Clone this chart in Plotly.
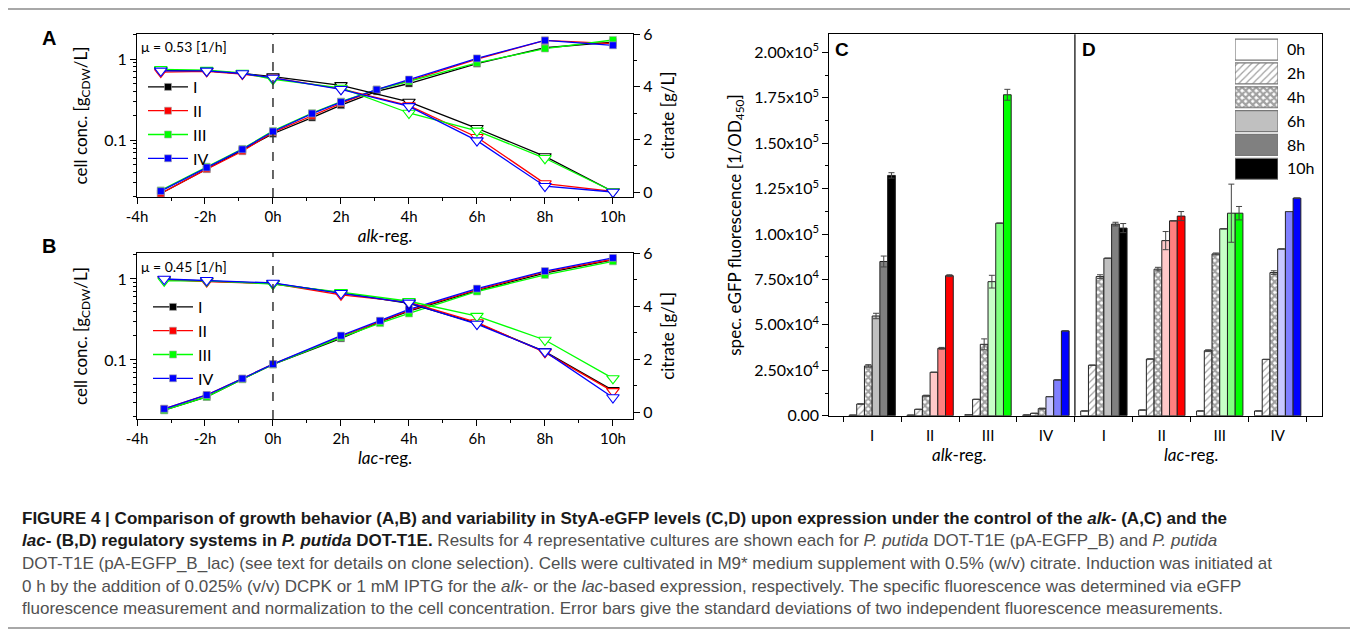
import math
import plotly.graph_objects as go

W, H = 1358, 635
PAGE_OFFSET = 8  # default body margin of the html page
FONT = "Lato, Open Sans, sans-serif"
CAP_FONT = "Liberation Sans Narrow, Liberation Sans, Arial, sans-serif"

# =========================
# DATA - growth curves (A, B)
# =========================
clones = ["I", "II", "III", "IV"]
hour_ticks = [-4, -2, 0, 2, 4, 6, 8, 10]
hour_labels = [f"{h}h" for h in hour_ticks]

# A: alk-reg.
alk_cell_time = [-3.3, -1.95, -0.9, 0, 1.15, 2, 3.05, 4, 6, 8, 10]
alk_cells_I = [0.022, 0.044, 0.074, 0.120, 0.190, 0.270, 0.40, 0.50, 0.88, 1.38, 1.62]
alk_cells_II = [0.022, 0.044, 0.073, 0.125, 0.200, 0.285, 0.42, 0.54, 1.00, 1.70, 1.55]
alk_cells_III = [0.024, 0.047, 0.078, 0.130, 0.215, 0.300, 0.42, 0.53, 0.90, 1.35, 1.72]
alk_cells_IV = [0.0235, 0.046, 0.077, 0.128, 0.213, 0.295, 0.42, 0.56, 1.02, 1.70, 1.48]

alk_cit_time = [-3.3, -1.95, -0.9, 0, 2, 4, 6, 8, 10]
alk_cit_I = [4.62, 4.60, 4.50, 4.38, 4.05, 3.42, 2.42, 1.35, 0.02]
alk_cit_II = [4.55, 4.58, 4.48, 4.33, 3.92, 3.28, 2.08, 0.32, 0.02]
alk_cit_III = [4.66, 4.63, 4.52, 4.28, 3.95, 3.00, 2.32, 1.28, 0.02]
alk_cit_IV = [4.60, 4.60, 4.50, 4.33, 3.90, 3.25, 1.95, 0.22, 0.00]

# B: lac-reg.
lac_cell_time = [-3.2, -1.95, -0.9, 0, 2, 3.15, 4, 6, 8, 10]
lac_cells_I = [0.024, 0.035, 0.058, 0.088, 0.185, 0.295, 0.40, 0.72, 1.18, 1.72]
lac_cells_II = [0.025, 0.037, 0.059, 0.089, 0.195, 0.300, 0.41, 0.74, 1.22, 1.75]
lac_cells_III = [0.024, 0.035, 0.058, 0.088, 0.190, 0.285, 0.375, 0.70, 1.12, 1.65]
lac_cells_IV = [0.025, 0.037, 0.059, 0.089, 0.200, 0.305, 0.42, 0.76, 1.25, 1.82]

lac_cit_time = [-3.2, -1.95, 0, 2, 4, 6, 8, 10]
lac_cit_I = [5.00, 4.95, 4.85, 4.50, 4.10, 3.35, 2.28, 0.82]
lac_cit_II = [5.00, 4.92, 4.85, 4.42, 4.15, 3.38, 2.25, 0.78]
lac_cit_III = [4.95, 4.95, 4.83, 4.52, 4.18, 3.62, 2.72, 1.27]
lac_cit_IV = [5.02, 4.97, 4.87, 4.48, 4.12, 3.32, 2.28, 0.55]

mu_alk = "μ = 0.53 [1/h]"
mu_lac = "μ = 0.45 [1/h]"

# =========================
# DATA - specific fluorescence (C, D)
# =========================
time_labels = ["0h", "2h", "4h", "6h", "8h", "10h"]
group_labels = ["I", "II", "III", "IV", "I", "II", "III", "IV"]
regulators = ["<i>alk</i>-reg.", "<i>lac</i>-reg."]

fluo_0h = [300, 300, 600, 400, 2600, 3100, 2600, 2600]
fluo_2h = [6450, 3500, 9000, 1300, 27800, 31200, 35800, 31000]
fluo_4h = [27400, 11000, 39300, 3900, 76600, 80700, 89100, 78800]
fluo_6h = [54900, 23900, 73800, 10500, 86700, 96400, 102900, 91800]
fluo_8h = [84900, 37100, 106000, 19700, 105500, 107300, 111500, 112400]
fluo_10h = [132300, 77100, 176700, 46700, 103300, 109900, 111500, 119800]

err_0h = [0, 0, 0, 0, 0, 0, 0, 0]
err_2h = [0, 0, 0, 0, 0, 0, 500, 0]
err_4h = [700, 300, 3000, 300, 1000, 1000, 500, 1000]
err_6h = [1500, 0, 3500, 0, 0, 5000, 0, 0]
err_8h = [3000, 500, 0, 0, 1000, 0, 16000, 0]
err_10h = [1500, 500, 3000, 0, 2500, 2500, 3700, 0]

# =========================
# STYLES
# =========================
clone_colors = ["#000000", "#ff0000", "#00ff00", "#0000ff"]
light_colors = ["#c0c0c0", "#ffc8c8", "#c8ffc8", "#c8c8ff"]
mid_colors = ["#808080", "#ff8080", "#80ff80", "#8080ff"]


def px_x(p):
    return (p - PAGE_OFFSET) / W


def px_y(p):
    return 1 - (p - PAGE_OFFSET) / H


def sci_label(v):
    if v == 0:
        return "0.00"
    e = int(math.floor(math.log10(v)))
    return f"{v / 10 ** e:.2f}x10<sup>{e}</sup>"


axis_base = dict(
    showline=True, linecolor="black", linewidth=1.2,
    ticks="outside", tickcolor="black", tickwidth=1.2, ticklen=6,
    showgrid=False, zeroline=False, automargin=False,
    tickfont=dict(family=FONT, size=16, color="black"),
)

fig = go.Figure()


# =========================
# GROWTH PANELS
# =========================
def add_growth(xa, ya_left, ya_right, legend_name, cell_time, cells, cit_time, cits):
    for name, color, ys in zip(clones, clone_colors, cits):
        fig.add_trace(go.Scatter(
            x=cit_time, y=ys, mode="lines+markers", showlegend=False,
            line=dict(color=color, width=1.3),
            marker=dict(symbol="triangle-down", size=11, color="white",
                        line=dict(color=color, width=1.1)),
            xaxis=xa, yaxis=ya_right,
        ))
    for name, color, ys in zip(clones, clone_colors, cells):
        fig.add_trace(go.Scatter(
            x=cell_time, y=ys, mode="lines+markers", name=name,
            line=dict(color=color, width=1.3),
            marker=dict(symbol="square", size=7, color=color,
                        line=dict(color="#aaaaaa", width=0.6)),
            xaxis=xa, yaxis=ya_left, legend=legend_name,
        ))


add_growth("x", "y", "y2", "legend", alk_cell_time,
           [alk_cells_I, alk_cells_II, alk_cells_III, alk_cells_IV],
           alk_cit_time, [alk_cit_I, alk_cit_II, alk_cit_III, alk_cit_IV])
add_growth("x2", "y3", "y4", "legend2", lac_cell_time,
           [lac_cells_I, lac_cells_II, lac_cells_III, lac_cells_IV],
           lac_cit_time, [lac_cit_I, lac_cit_II, lac_cit_III, lac_cit_IV])

# =========================
# BAR PANELS
# =========================
positions = list(range(1, len(group_labels) + 1))
fluo = [fluo_0h, fluo_2h, fluo_4h, fluo_6h, fluo_8h, fluo_10h]
errs = [err_0h, err_2h, err_4h, err_6h, err_8h, err_10h]

clone_idx = [clones.index(g) for g in group_labels]
fills = [
    ["white"] * 4, ["white"] * 4, ["white"] * 4,
    light_colors, mid_colors, clone_colors,
]
shapes_by_time = ["", "/", "x", "", "", ""]
size_by_time = [8, 5, 5, 8, 8, 8]
solid_by_time = [0.3, 0.25, 0.7, 0.3, 0.3, 0.3]
legend_fill = [f[0] for f in fills]

for j, lab in enumerate(time_labels):
    fig.add_trace(go.Bar(
        x=positions, y=fluo[j], name=lab, showlegend=False,
        marker=dict(
            color=[fills[j][i] for i in clone_idx],
            line=dict(color="#222222", width=1),
            pattern=dict(shape=shapes_by_time[j],
                         fgcolor=[clone_colors[i] for i in clone_idx],
                         size=size_by_time[j], solidity=solid_by_time[j],
                         fillmode="overlay"),
        ),
        error_y=dict(type="data", array=errs[j], color="#444444",
                     thickness=1, width=3),
        xaxis="x3", yaxis="y5",
    ))

# legend swatches (panel D)
fig.add_trace(go.Bar(
    y=time_labels, x=[1] * len(time_labels), orientation="h", width=0.88,
    showlegend=False, hoverinfo="skip",
    marker=dict(
        color=legend_fill,
        line=dict(color="#777777", width=1.2),
        pattern=dict(shape=shapes_by_time, fgcolor="black",
                     size=size_by_time, solidity=solid_by_time,
                     fillmode="overlay"),
    ),
    xaxis="x4", yaxis="y6",
))

# =========================
# LAYOUT
# =========================
xa_growth = dict(axis_base, range=[-4, 10.59], tickvals=hour_ticks, ticktext=hour_labels,
                 mirror=True, tickfont=dict(family=FONT, size=15, color="black"),
                 minor=dict(ticks="outside", dtick=1, tick0=0, ticklen=3,
                            tickcolor="black"))
ylog = dict(axis_base, type="log", dtick=1, exponentformat="none",
            minor=dict(ticks="outside", dtick="D1", ticklen=3, tickcolor="black"),
            title=dict(text="cell conc. [g<sub>CDW</sub>/L]", standoff=12,
                       font=dict(family=FONT, size=17, color="black")))
ycit = dict(axis_base, side="right", tickvals=[0, 2, 4, 6],
            minor=dict(ticks="outside", dtick=1, tick0=0, ticklen=3,
                       tickcolor="black"),
            title=dict(text="citrate [g/L]", standoff=10,
                       font=dict(family=FONT, size=17, color="black")))

xdom = [px_x(137), px_x(633)]
fig.update_layout(
    width=W, height=H,
    margin=dict(l=0, r=0, t=0, b=0, autoexpand=False),
    paper_bgcolor="white", plot_bgcolor="white",
    font=dict(family=FONT, color="black"),
    barmode="group", bargap=0.2, bargroupgap=0,
    xaxis=dict(xa_growth, domain=xdom, anchor="y",
               title=dict(text="<i>alk</i>-reg.", standoff=4,
                          font=dict(family=FONT, size=17, color="black"))),
    yaxis=dict(ylog, domain=[px_y(197), px_y(34)], anchor="x",
               range=[math.log10(0.0199), math.log10(2.04)]),
    yaxis2=dict(ycit, overlaying="y", anchor="x", range=[-0.19, 6]),
    xaxis2=dict(xa_growth, domain=xdom, anchor="y3",
                title=dict(text="<i>lac</i>-reg.", standoff=4,
                           font=dict(family=FONT, size=17, color="black"))),
    yaxis3=dict(ylog, domain=[px_y(419), px_y(253)], anchor="x2",
                range=[math.log10(0.0187), math.log10(2.09)]),
    yaxis4=dict(ycit, overlaying="y3", anchor="x2", range=[-0.26, 6]),
    xaxis3=dict(axis_base, domain=[px_x(829.3), px_x(1321.7)], anchor="y5",
                range=[0.26, 8.76], mirror=True, tickvals=positions,
                ticktext=group_labels, ticks="", ticklabelstandoff=6,
                tickfont=dict(family=FONT, size=15, color="black"),
                minor=dict(ticks="outside", tick0=0.5, dtick=1, ticklen=5,
                           tickcolor="black")),
    yaxis5=dict(axis_base, domain=[px_y(415.7), px_y(34.3)], anchor="x3",
                range=[0, 210000], mirror=True,
                tickvals=list(range(0, 200001, 25000)),
                ticktext=[sci_label(v) for v in range(0, 200001, 25000)],
                minor=dict(ticks="outside", dtick=12500, tick0=0, ticklen=3,
                           tickcolor="black"),
                title=dict(text="spec. eGFP fluorescence [1/OD<sub>450</sub>]",
                           standoff=8,
                           font=dict(family=FONT, size=17, color="black"))),
    xaxis4=dict(domain=[px_x(1235), px_x(1278)], anchor="y6", range=[0, 1],
                visible=False, fixedrange=True, automargin=False),
    yaxis6=dict(domain=[px_y(180.7), px_y(37.7)], anchor="x4", side="right",
                range=[len(time_labels) - 0.5, -0.5], showline=False,
                showgrid=False, zeroline=False, ticks="", ticklabelstandoff=8,
                automargin=False,
                tickfont=dict(family=FONT, size=16, color="black")),
    legend=dict(x=px_x(143), y=px_y(70), xanchor="left", yanchor="top",
                bgcolor="rgba(0,0,0,0)", font=dict(family=FONT, size=16),
                tracegroupgap=0, itemwidth=40),
    legend2=dict(x=px_x(148), y=px_y(290), xanchor="left", yanchor="top",
                 bgcolor="rgba(0,0,0,0)", font=dict(family=FONT, size=16),
                 tracegroupgap=0, itemwidth=40),
)

# dashed induction lines at 0 h
for xa, ya in [("x", "y"), ("x2", "y3")]:
    fig.add_shape(type="line", xref=xa, yref=f"{ya} domain", x0=0, x1=0,
                  y0=0, y1=1, line=dict(color="#333333", width=1.5, dash="dash"))

# divider between C and D
fig.add_shape(type="line", xref="x3", yref="y5 domain", x0=4.5, x1=4.5,
              y0=0, y1=1, line=dict(color="black", width=1.2))

# regulator labels under C / D
for k, reg in enumerate(regulators):
    grp = positions[k * 4:(k + 1) * 4]
    fig.add_annotation(x=sum(grp) / len(grp), xref="x3", y=px_y(467), yref="paper",
                       text=reg, showarrow=False,
                       font=dict(family=FONT, size=17, color="black"))

# panel letters
for txt, x, y, s in [("A", 40, 38, 20), ("B", 40, 246, 20),
                     ("C", 833, 50, 19), ("D", 1080, 49, 19)]:
    fig.add_annotation(x=px_x(x), y=px_y(y), xref="paper", yref="paper",
                       xanchor="left", yanchor="middle", showarrow=False,
                       text=f"<b>{txt}</b>",
                       font=dict(family="Liberation Sans, Arial, sans-serif",
                                 size=s, color="black"))

# growth rates
for txt, y in [(mu_alk, 46), (mu_lac, 266)]:
    fig.add_annotation(x=px_x(139), y=px_y(y), xref="paper", yref="paper",
                       xanchor="left", yanchor="middle", showarrow=False,
                       text=txt, font=dict(family=FONT, size=14, color="black"))

# caption
dark = '<span style="color:#1a1a1a">'
caption = [
    dark + "<b>FIGURE 4 | Comparison of growth behavior (A,B) and variability in StyA-eGFP "
    "levels (C,D) upon expression under the control of the <i>alk</i>- (A,C) and the</b></span>",
    dark + "<b><i>lac</i>- (B,D) regulatory systems in <i>P. putida</i> DOT-T1E.</b></span> "
    "Results for 4 representative cultures are shown each for <i>P. putida</i> DOT-T1E "
    "(pA-EGFP_B) and <i>P. putida</i>",
    "DOT-T1E (pA-EGFP_B_lac) (see text for details on clone selection). Cells were cultivated "
    "in M9* medium supplement with 0.5% (w/v) citrate. Induction was initiated at",
    "0 h by the addition of 0.025% (v/v) DCPK or 1 mM IPTG for the <i>alk</i>- or the "
    "<i>lac</i>-based expression, respectively. The specific fluorescence was determined via eGFP",
    "fluorescence measurement and normalization to the cell concentration. Error bars give the "
    "standard deviations of two independent fluorescence measurements.",
]
for k, line in enumerate(caption):
    fig.add_annotation(x=px_x(20), y=px_y(518 + k * 22.7), xref="paper", yref="paper",
                       xanchor="left", yanchor="middle", showarrow=False, text=line,
                       font=dict(family=CAP_FONT, size=17, color="#505050"))

# frame
fig.add_shape(type="rect", xref="paper", yref="paper",
              x0=px_x(6), x1=px_x(1355), y0=px_y(628), y1=px_y(9),
              line=dict(color="#8c8c8c", width=1.5))

fig.write_html("out.html")
